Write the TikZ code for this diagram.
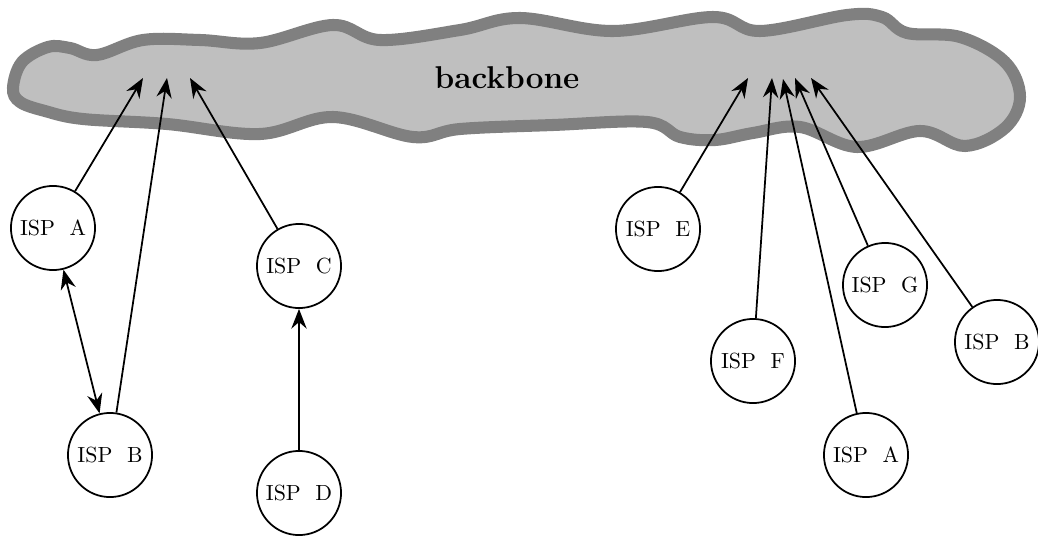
\documentclass[tikz,border=0pt]{standalone}
\usepackage{amsmath,amssymb}
\usepackage{tikz}
\usetikzlibrary{arrows.meta}
\tikzset{
  isp/.style     = {draw, circle, thick, minimum size=1.35cm, inner sep=0pt},
  sageata/.style = {-{Stealth[length=9pt, width=7pt, inset=3pt]}, thick},
  dubla/.style   = {{Stealth[length=9pt, width=7pt, inset=3pt]}-{Stealth[length=9pt, width=7pt, inset=3pt]}, thick},
  nor/.style     = {draw=gray, fill=gray!50, line width=5.5pt}
}

\begin{document}
\begin{tikzpicture}[x=0.01605cm, y=-0.01605cm]
        \useasboundingbox (0,0) rectangle (1038,538);

        \draw[nor] plot[smooth cycle, tension=0.6] coordinates {
            (13,88) (22,62) (48,47) (70,48) (97,55) (143,40) (200,40) (260,43) (333,25)
            (380,40) (460,30) (520,18) (613,31) (713,17) (760,31) (847,15) (882,17)
            (907,33) (960,37) (1005,62) (1020,97) (1005,128) (965,146) (920,131)
            (857,147) (800,127) (753,133) (715,140) (680,137) (647,122) (553,125)
            (460,129) (413,137) (333,117) (260,134) (167,124) (83,119) (45,111) (20,102)};
        \node[font=\Large\bfseries] (bb) at (507,78) {backbone};

        \coordinate (t1) at (143,78);
        \coordinate (t2) at (167,78);
        \coordinate (t3) at (190,78);
        \coordinate (t4) at (748,78);
        \coordinate (t5) at (772,78);
        \coordinate (t6) at (783,79);
        \coordinate (t7) at (795,78);
        \coordinate (t8) at (811,78);

        \node[isp] (ispA)  at (53,228)  {ISP~~A};
        \node[isp] (ispB)  at (110,455) {ISP~~B};
        \node[isp] (ispC)  at (299,266) {ISP~~C};
        \node[isp] (ispD)  at (299,493) {ISP~~D};
        \node[isp] (ispE)  at (658,229) {ISP~~E};
        \node[isp] (ispF)  at (753,361) {ISP~~F};
        \node[isp] (ispG)  at (885,285) {ISP~~G};
        \node[isp] (ispB2) at (997,342) {ISP~~B};
        \node[isp] (ispA2) at (866,455) {ISP~~A};

        \draw[sageata] (ispA) -- (t1);
        \draw[sageata] (ispB) -- (t2);
        \draw[sageata] (ispC) -- (t3);
        \draw[dubla] (ispA) -- (ispB);
        \draw[sageata] (ispD) -- (ispC);

        \draw[sageata] (ispE) -- (t4);
        \draw[sageata] (ispF) -- (t5);
        \draw[sageata] (ispA2) -- (t6);
        \draw[sageata] (ispG) -- (t7);
        \draw[sageata] (ispB2) -- (t8);
    \end{tikzpicture}
\end{document}
